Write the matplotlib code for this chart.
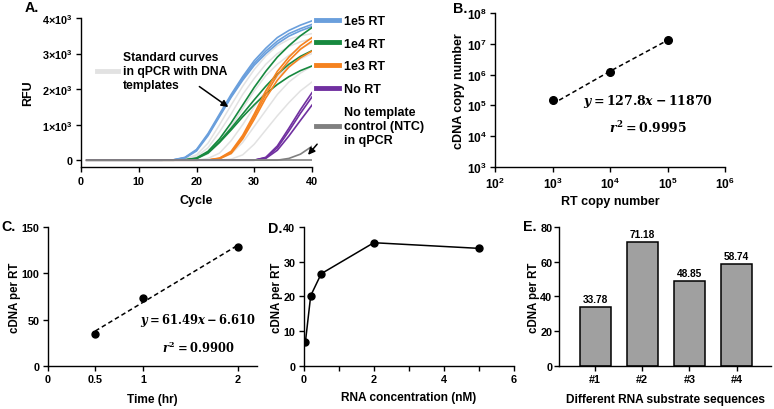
import numpy as np
import matplotlib
matplotlib.use('Agg')
import matplotlib.pyplot as plt
from matplotlib.lines import Line2D

plt.rcParams['font.family'] = ['Liberation Sans', 'DejaVu Sans']
plt.rcParams['font.weight'] = 'bold'
plt.rcParams['axes.labelweight'] = 'bold'
plt.rcParams['axes.linewidth'] = 1.0
plt.rcParams['xtick.major.width'] = 1.0
plt.rcParams['ytick.major.width'] = 1.0
plt.rcParams['xtick.major.size'] = 3.5
plt.rcParams['ytick.major.size'] = 3.5
plt.rcParams['xtick.major.pad'] = 2.5
plt.rcParams['ytick.major.pad'] = 2.5
plt.rcParams['xtick.labelsize'] = 7.8
plt.rcParams['ytick.labelsize'] = 7.8
plt.rcParams['axes.labelsize'] = 8.6
plt.rcParams['mathtext.fontset'] = 'custom'
plt.rcParams['mathtext.rm'] = 'DejaVu Serif:bold'
plt.rcParams['mathtext.it'] = 'DejaVu Serif:italic:bold'
plt.rcParams['mathtext.bf'] = 'Liberation Sans:bold'

# ---- panel A: qPCR amplification curves (cycles 1, 12, 14, ..., 40)
cycles = [1, 12, 14, 16, 18, 20, 22, 24, 26, 28, 30, 32, 34, 36, 38, 40]
std_curves = [
    [0, 0, 0, 0, 30, 150, 480, 1000, 1550, 2080, 2550, 2930, 3220, 3400, 3500, 3560],
    [0, 0, 0, 0, 20, 100, 350, 800, 1300, 1850, 2300, 2700, 3000, 3200, 3330, 3420],
    [0, 0, 0, 0, 0, 40, 180, 500, 950, 1450, 1950, 2380, 2700, 2950, 3150, 3300],
    [0, 0, 0, 0, 0, 0, 50, 200, 550, 1000, 1500, 1950, 2350, 2650, 2850, 3000],
    [0, 0, 0, 0, 0, 0, 0, 40, 180, 500, 950, 1400, 1850, 2200, 2450, 2650],
    [0, 0, 0, 0, 0, 0, 0, 0, 30, 150, 450, 850, 1250, 1620, 1950, 2200],
]
rt_1e5 = [
    [0, 0, 0, 10, 80, 300, 750, 1300, 1850, 2350, 2800, 3150, 3450, 3650, 3800, 3920],
    [0, 0, 0, 8, 70, 280, 720, 1260, 1800, 2300, 2730, 3070, 3350, 3560, 3700, 3820],
    [0, 0, 0, 6, 60, 260, 690, 1230, 1770, 2250, 2670, 3000, 3280, 3490, 3640, 3760],
]
rt_1e4 = [
    [0, 0, 0, 0, 10, 60, 250, 600, 1050, 1550, 2050, 2500, 2900, 3220, 3500, 3730],
    [0, 0, 0, 0, 8, 50, 220, 530, 900, 1300, 1700, 2080, 2420, 2700, 2920, 3080],
    [0, 0, 0, 0, 6, 45, 200, 500, 850, 1220, 1560, 1870, 2130, 2350, 2520, 2650],
]
rt_1e3 = [
    [0, 0, 0, 0, 0, 0, 5, 60, 250, 700, 1300, 1950, 2500, 2900, 3220, 3450],
    [0, 0, 0, 0, 0, 0, 4, 50, 220, 650, 1230, 1850, 2400, 2800, 3120, 3350],
    [0, 0, 0, 0, 0, 0, 3, 40, 190, 600, 1150, 1750, 2250, 2620, 2880, 3070],
]
no_rt = [
    [0, 0, 0, 0, 0, 0, 0, 0, 0, 0, 0, 80, 400, 900, 1420, 1900],
    [0, 0, 0, 0, 0, 0, 0, 0, 0, 0, 0, 70, 350, 820, 1320, 1780],
    [0, 0, 0, 0, 0, 0, 0, 0, 0, 0, 0, 50, 280, 680, 1120, 1550],
]
ntc = [
    [0, 0, 0, 0, 0, 0, 0, 0, 0, 0, 0, 0, 0, 50, 170, 390],
    [0, 0, 0, 0, 0, 0, 0, 0, 0, 0, 0, 0, 0, 0, 0, 0],
]

# ---- panel B
rt_copies = [1e3, 1e4, 1e5]
cdna_copies = [1.5e5, 1.24e6, 1.3e7]

# ---- panel C
time_hr = [0.5, 1, 2]
cdna_time = [34.2, 73.7, 128.4]

# ---- panel D
rna_conc = [0.05, 0.2, 0.5, 2, 5]
cdna_conc = [7.0, 20.2, 26.5, 35.4, 33.78]

# ---- panel E
seq_labels = ['#1', '#2', '#3', '#4']
cdna_seq = [33.78, 71.18, 48.85, 58.74]

W, H = 774, 410
fig = plt.figure(figsize=(W / 100, H / 100), dpi=100)


def px_axes(l, t, r, b):
    return fig.add_axes([l / W, 1 - b / H, (r - l) / W, (b - t) / H])


def style(ax):
    ax.spines['top'].set_visible(False)
    ax.spines['right'].set_visible(False)


# ================= A
axA = px_axes(81, 19, 312, 168.3)
style(axA)
for c in std_curves:
    axA.plot(cycles, c, color='#e2e2e2', lw=1.1)
for c in rt_1e5:
    axA.plot(cycles, c, color='#6a9fdc', lw=1.2)
for c in rt_1e4:
    axA.plot(cycles, c, color='#17893f', lw=1.2)
for c in rt_1e3:
    axA.plot(cycles, c, color='#f5821f', lw=1.2)
for c in no_rt:
    axA.plot(cycles, c, color='#7030a0', lw=1.2)
for c in ntc:
    axA.plot(cycles, c, color='#808080', lw=1.2)
axA.set_xlim(0, 40)
axA.set_ylim(-200, 4000)
axA.set_xticks([0, 10, 20, 30, 40])
axA.set_yticks([0, 1000, 2000, 3000, 4000])
axA.set_yticklabels(['0'] + [r'$\mathbf{%d×10^{3}}$' % k for k in range(1, 5)])
axA.set_xlabel('Cycle', labelpad=6, fontsize=9)
axA.set_ylabel('RFU', labelpad=6, fontsize=9)

std_leg = axA.legend(handles=[Line2D([], [], color='#e2e2e2', lw=3.5)],
                     labels=['Standard curves\nin qPCR with DNA\ntemplates'],
                     loc='upper left', bbox_to_anchor=(97 / W, 1 - 52 / H),
                     bbox_transform=fig.transFigure, frameon=False,
                     borderpad=0, borderaxespad=0, handlelength=1.75,
                     handletextpad=0.4, prop={'size': 8.7, 'weight': 'bold'})
axA.annotate('', xy=(25.9, 1450), xytext=(20.1, 2117),
             arrowprops=dict(arrowstyle='-|>', color='black', lw=1.1,
                             mutation_scale=10))
axA.annotate('', xy=(39.0, 90), xytext=(41.2, 510), annotation_clip=False,
             arrowprops=dict(arrowstyle='-|>', color='black', lw=1.1,
                             mutation_scale=10))

leg_handles = [Line2D([], [], color=col, lw=3.5) for col in
               ['#6a9fdc', '#17893f', '#f5821f', '#7030a0', '#808080']]
leg_labels = ['1e5 RT', '1e4 RT', '1e3 RT', 'No RT',
              'No template\ncontrol (NTC)\nin qPCR']
fig.legend(leg_handles, leg_labels, loc='upper left',
           bbox_to_anchor=(316 / W, 1 - 16 / H), frameon=False,
           borderpad=0, borderaxespad=0, handlelength=1.85,
           handletextpad=0.4, labelspacing=0.86,
           prop={'size': 9, 'weight': 'bold'})

# ================= B
axB = px_axes(495, 14, 725, 168)
style(axB)
axB.set_xscale('log')
axB.set_yscale('log')
fit_b = np.polyfit(rt_copies, cdna_copies, 1)
axB.plot(rt_copies, np.polyval(fit_b, rt_copies), color='black', lw=1.1,
         ls=(0, (3, 2)))
axB.plot(rt_copies, cdna_copies, 'o', color='black', ms=5.5)
axB.set_xlim(1e2, 1e6)
axB.set_ylim(1e3, 1e8)
axB.set_xticks([1e2, 1e3, 1e4, 1e5, 1e6])
axB.set_xticklabels([r'$\mathbf{10^{%d}}$' % e for e in range(2, 7)],
                    fontsize=8.6)
axB.set_yticks([1e3, 1e4, 1e5, 1e6, 1e7, 1e8])
axB.set_yticklabels([r'$\mathbf{10^{%d}}$' % e for e in range(3, 9)],
                    fontsize=8.6)
axB.minorticks_off()
axB.set_xlabel('RT copy number', labelpad=3, fontsize=9)
axB.set_ylabel('cDNA copy number', labelpad=1, fontsize=9)
axB.text(0.665, 0.43, r'$y = 127.8x - 11870$', transform=axB.transAxes,
         ha='center', va='center', fontsize=9)
axB.text(0.665, 0.26, r'$r^2 = 0.9995$', transform=axB.transAxes,
         ha='center', va='center', fontsize=9)

# ================= C
axC = px_axes(47.7, 227.7, 257, 367)
style(axC)
fit_c = np.polyfit(time_hr, cdna_time, 1)
axC.plot(time_hr, np.polyval(fit_c, time_hr), color='black', lw=1.1,
         ls=(0, (3, 2)))
axC.plot(time_hr, cdna_time, 'o', color='black', ms=5)
axC.set_xlim(0, 2.2)
axC.set_ylim(0, 150)
axC.set_xticks([0, 0.5, 1, 2])
axC.set_xticklabels(['0', '0.5', '1', '2'])
axC.set_yticks([0, 50, 100, 150])
axC.set_xlabel('Time (hr)', labelpad=6)
axC.set_ylabel('cDNA per RT', labelpad=0, fontsize=8.3)
axC.text(0.718, 0.336, r'$y = 61.49x - 6.610$', transform=axC.transAxes,
         ha='center', va='center', fontsize=8.3)
axC.text(0.718, 0.135, r'$r^2 = 0.9900$', transform=axC.transAxes,
         ha='center', va='center', fontsize=8.3)

# ================= D
axD = px_axes(303.7, 227.7, 514, 367)
style(axD)
axD.plot(rna_conc, cdna_conc, '-o', color='black', lw=1.1, ms=5)
axD.set_xlim(0, 6)
axD.set_ylim(0, 40)
axD.set_xticks(range(0, 7))
axD.set_xticklabels(['0', '', '2', '', '4', '', '6'])
axD.set_yticks([0, 10, 20, 30, 40])
axD.set_xlabel('RNA concentration (nM)', labelpad=5)
axD.set_ylabel('cDNA per RT', labelpad=0, fontsize=8.3)

# ================= E
axE = px_axes(559.3, 227.7, 771, 367)
style(axE)
xpos = np.arange(len(seq_labels))
bars = axE.bar(xpos, cdna_seq, width=0.655, color='#a0a0a0',
               edgecolor='black', lw=1.1)
axE.bar_label(bars, labels=['%.2f' % v for v in cdna_seq], padding=2,
              fontsize=7.3, fontweight='bold')
axE.set_xlim(-0.76, 3.73)
axE.set_ylim(0, 80)
axE.set_xticks(xpos)
axE.set_xticklabels(seq_labels)
axE.set_yticks([0, 20, 40, 60, 80])
axE.tick_params(axis='y', pad=1.5)
axE.set_xlabel('Different RNA substrate sequences', labelpad=6)
axE.set_ylabel('cDNA per RT', labelpad=0, fontsize=8.3)

# panel letters
for letter, x, y in [('A.', 25, 8), ('B.', 453, 9), ('C.', 1, 227),
                     ('D.', 268, 229), ('E.', 523, 227)]:
    fig.text(x / W, 1 - y / H, letter, fontsize=10.3, fontweight='bold',
             ha='left', va='center')

fig.savefig('out.png', dpi=100)
